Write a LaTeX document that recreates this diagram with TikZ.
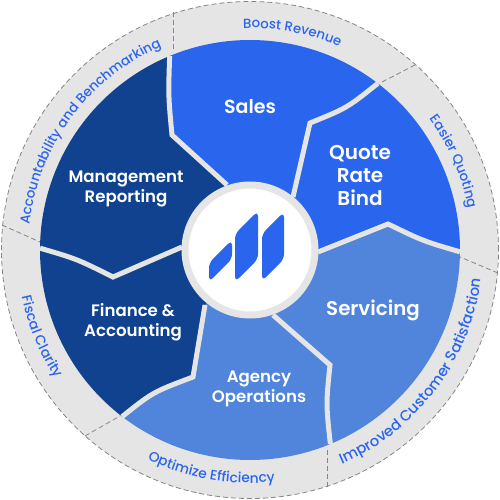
\documentclass[tikz,border=0pt]{standalone}
\usepackage{fontspec}
\usetikzlibrary{decorations.text}
\setmainfont{Poppins Medium}
\newfontfamily\titlefont{Poppins SemiBold}
\definecolor{ringgray}{HTML}{E5E5E5}
\definecolor{dashgray}{HTML}{858585}
\definecolor{navy}{HTML}{10428F}
\definecolor{vivid}{HTML}{2A65EE}
\definecolor{soft}{HTML}{5085DB}
\tikzset{
  sepline/.style={draw=ringgray,line width=5pt,line join=miter},
  dashsep/.style={draw=dashgray,line width=0.8pt,dash pattern=on 5pt off 3pt},
  title/.style={text=white,align=center,font=\titlefont\fontsize{#1}{20}\selectfont},
  titleb/.style={text=white,align=center,font=\titlefont\fontsize{#1}{23}\selectfont},
  ringtext/.style={decorate,decoration={text along path,text align=center,text={#1}}},
}
\newcommand{\rf}[1]{\fontsize{#1}{16}\selectfont\color{vivid}}
\begin{document}
\begin{tikzpicture}[x=1pt,y=1pt]
\useasboundingbox (-250,-250) rectangle (250,250);
% outer band
\path[fill=ringgray] (0,0) circle[radius=248.5];
\draw[dashsep] (0,0) circle[radius=248.5];
% boundary coordinates
\coordinate (oA) at (112.5:210);
\coordinate (oB) at (52.5:210);
\coordinate (oC) at (-0.5:210);
\coordinate (oD) at (-67.5:210);
\coordinate (oE) at (-127.5:210);
\coordinate (oF) at (179.5:210);
\coordinate (kA) at (-78,115);
\coordinate (kB) at (60,127);
\coordinate (kC) at (138,26);
\coordinate (kD) at (80,-115);
\coordinate (kE) at (-57,-127);
\coordinate (kF) at (-137,-27);
\coordinate (cA) at (-81.7,154);
\coordinate (cB) at (97,142);
\coordinate (cC) at (173,9);
\coordinate (cD) at (76,-154);
\coordinate (cE) at (-97,-142);
\coordinate (cF) at (-173,-9);
\coordinate (iA) at (-23,65);
\coordinate (iB) at (43,53);
\coordinate (iC) at (68,-2);
\coordinate (iD) at (23,-65);
\coordinate (iE) at (-45,-55);
\coordinate (iF) at (-68,3);
% sectors
\fill[navy] (0,0) -- (iF) -- (kF) .. controls (cF) .. (oF) arc[start angle=179.5,end angle=112.5,radius=210] .. controls (cA) .. (kA) -- (iA) -- cycle;
\fill[vivid] (0,0) -- (iA) -- (kA) .. controls (cA) .. (oA) arc[start angle=112.5,end angle=52.5,radius=210] .. controls (cB) .. (kB) -- (iB) -- cycle;
\fill[vivid] (0,0) -- (iB) -- (kB) .. controls (cB) .. (oB) arc[start angle=52.5,end angle=-0.5,radius=210] .. controls (cC) .. (kC) -- (iC) -- cycle;
\fill[soft] (0,0) -- (iC) -- (kC) .. controls (cC) .. (oC) arc[start angle=-0.5,end angle=-67.5,radius=210] .. controls (cD) .. (kD) -- (iD) -- cycle;
\fill[soft] (0,0) -- (iD) -- (kD) .. controls (cD) .. (oD) arc[start angle=-67.5,end angle=-127.5,radius=210] .. controls (cE) .. (kE) -- (iE) -- cycle;
\fill[navy] (0,0) -- (iE) -- (kE) .. controls (cE) .. (oE) arc[start angle=-127.5,end angle=-180.5,radius=210] .. controls (cF) .. (kF) -- (iF) -- cycle;
% separators
\draw[sepline] (iA) -- (kA) .. controls (cA) .. (oA);
\draw[sepline] (iB) -- (kB) .. controls (cB) .. (oB);
\draw[sepline] (iC) -- (kC) .. controls (cC) .. (oC);
\draw[sepline] (iD) -- (kD) .. controls (cD) .. (oD);
\draw[sepline] (iE) -- (kE) .. controls (cE) .. (oE);
\draw[sepline] (iF) -- (kF) .. controls (cF) .. (oF);
% dashed dividers
\coordinate (dA) at (-77,238);
\coordinate (eA) at (-77,198);
\coordinate (dB) at (165,185);
\coordinate (eB) at (130,167);
\coordinate (dC) at (248,-23);
\coordinate (eC) at (210,-7);
\coordinate (dD) at (77,-237);
\coordinate (eD) at (77,-197);
\coordinate (dE) at (-165,-186);
\coordinate (eE) at (-130,-166);
\coordinate (dF) at (-248,25);
\coordinate (eF) at (-210,8);
\draw[dashsep] (dA) -- (eA);
\draw[dashsep] (dB) -- (eB);
\draw[dashsep] (dC) -- (eC);
\draw[dashsep] (dD) -- (eD);
\draw[dashsep] (dE) -- (eE);
\draw[dashsep] (dF) -- (eF);
% hub
\node[circle,fill=white,draw=ringgray,line width=7pt,minimum size=130pt,inner sep=0pt] (hub) at (0,0) {};
% logo
\fill[vivid,rounded corners=5pt] (-41,-13) -- (-18,10) -- (-18,-9) -- (-41,-32) -- cycle;
\fill[vivid,rounded corners=5pt] (-15,16) -- (8,39) -- (8,-9) -- (-15,-32) -- cycle;
\fill[vivid,rounded corners=5pt] (12,16) -- (34,38) -- (34,-9) -- (12,-31) -- cycle;
% titles
\node[title=16.6] (mgmt) at (-124,61) {Management\\Reporting};
\node[title=19] (sales) at (0,143) {Sales};
\node[titleb=20] (qrb) at (110,74) {Quote\\Rate\\Bind};
\node[title=19.8] (serv) at (123,-60) {Servicing};
\node[title=16.6] (agency) at (9,-139) {Agency\\Operations};
\node[title=16.6] (fin) at (-117,-72) {Finance \&\\Accounting};
% ring labels
\path[ringtext={|\rf{13.3}|Boost Revenue}] (119:222) arc[start angle=119,end angle=39,radius=222];
\path[ringtext={|\rf{13.5}|Accountability and Benchmarking}] (188.5:222) arc[start angle=188.5,end angle=98.5,radius=222];
\path[ringtext={|\rf{13.5}|Easier Quoting}] (63.5:222) arc[start angle=63.5,end angle=-16.5,radius=222];
\path[ringtext={|\rf{13.8}|Fiscal Clarity}] (162.5:233) arc[start angle=162.5,end angle=242.5,radius=233];
\path[ringtext={|\rf{13.8}|Optimize Efficiency}] (220:233) arc[start angle=220,end angle=300,radius=233];
\path[ringtext={|\rf{14.8}|Improved Customer Satisfaction}] (278:233) arc[start angle=278,end angle=368,radius=233];
\end{tikzpicture}
\end{document}
